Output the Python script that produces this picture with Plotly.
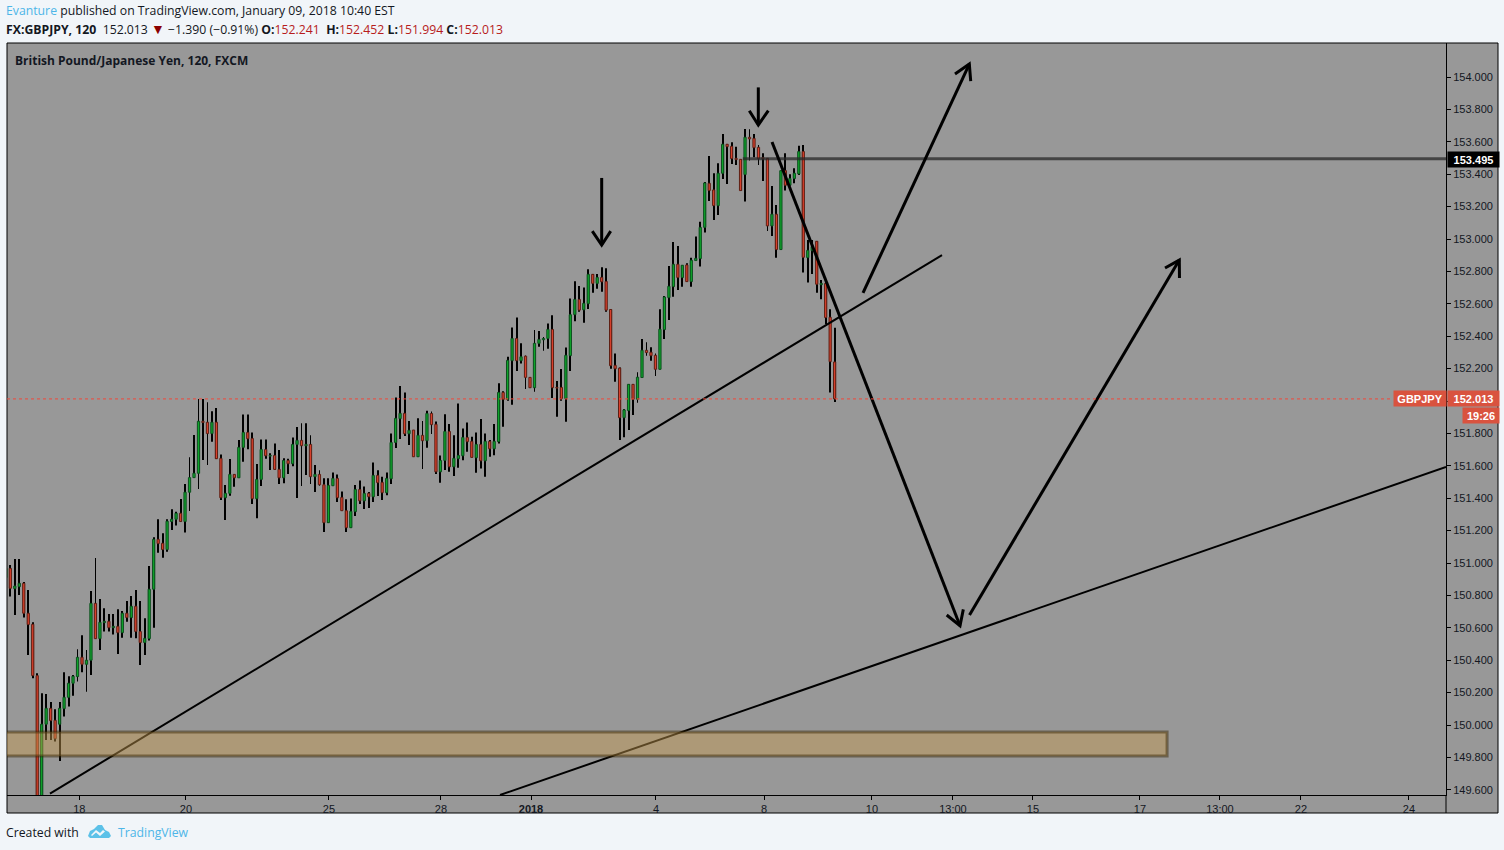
import plotly.graph_objects as go

opens = [150.910,150.967,150.842,150.854,150.875,150.690,150.622,150.305,149.30,150.005,
150.103,150.029,150.005,150.101,150.171,150.258,150.299,150.418,150.375,150.400,
150.751,150.533,150.632,150.640,150.601,150.609,150.570,150.690,150.663,150.733,
150.577,150.509,150.533,150.838,151.146,151.122,151.083,151.256,151.270,151.307,
151.256,151.437,151.527,151.554,151.875,151.869,151.799,151.869,151.646,151.403,
151.430,151.547,151.526,151.714,151.806,151.769,151.397,151.516,151.701,151.660,
151.664,151.578,151.526,151.633,151.613,151.732,151.757,151.724,151.732,151.533,
151.547,151.483,151.249,151.477,151.522,151.405,151.323,151.218,151.317,151.454,
151.384,151.430,151.409,151.541,151.498,151.434,151.520,151.744,151.891,151.924,
151.798,151.821,151.656,151.788,151.755,151.923,151.856,151.563,151.633,151.812,
151.594,151.644,151.662,151.775,151.751,151.650,151.732,151.631,151.751,151.705,
151.749,152.053,152.010,152.249,152.386,152.249,152.277,152.146,152.082,152.356,
152.378,152.386,152.442,152.084,152.084,152.016,152.280,152.533,152.627,152.563,
152.601,152.782,152.726,152.763,152.738,152.565,152.220,152.203,151.897,151.941,
152.103,152.011,152.145,152.313,152.301,152.282,152.196,152.441,152.638,152.706,
152.844,152.762,152.840,152.737,152.867,152.879,153.072,153.344,153.303,153.206,
153.406,153.585,153.572,153.498,153.492,153.398,153.628,153.621,153.566,153.502,
153.498,153.081,153.153,152.935,153.422,153.332,153.373,153.402,153.540,152.885,
152.928,152.986,152.718,152.726,152.517,152.241]
highs = [151.02,150.988,151.025,151.025,150.883,150.834,150.634,150.319,150.196,150.192,
150.142,150.097,150.142,150.325,150.301,150.309,150.467,150.554,150.463,150.828,
151.031,150.778,150.721,150.686,150.686,150.714,150.704,150.766,150.797,150.834,
150.766,150.659,150.982,151.159,151.270,151.183,151.270,151.332,151.317,151.395,
151.488,151.653,151.790,152.013,152.013,151.992,151.937,151.957,151.670,151.481,
151.642,151.547,151.759,151.917,151.917,151.806,151.611,151.763,151.763,151.677,
151.738,151.697,151.646,151.644,151.775,151.839,151.862,151.862,151.788,151.605,
151.572,151.524,151.524,151.559,151.547,151.442,151.393,151.399,151.481,151.510,
151.473,151.438,151.621,151.572,151.533,151.559,151.800,152.022,152.092,152.053,
151.876,151.821,151.893,151.876,151.940,151.936,151.874,151.664,151.919,151.858,
151.788,151.985,151.831,151.868,151.779,151.806,151.889,151.800,151.759,151.858,
152.109,152.061,152.273,152.454,152.516,152.356,152.281,152.146,152.438,152.432,
152.395,152.479,152.530,152.123,152.197,152.331,152.633,152.740,152.710,152.701,
152.814,152.784,152.784,152.825,152.819,152.565,152.294,152.207,151.951,152.103,
152.103,152.177,152.383,152.363,152.332,152.294,152.566,152.649,152.834,152.982,
152.957,152.838,152.850,152.885,153.015,153.107,153.352,153.513,153.406,153.468,
153.649,153.586,153.597,153.570,153.492,153.679,153.677,153.649,153.581,153.529,
153.498,153.328,153.210,153.422,153.529,153.400,153.437,153.575,153.581,152.994,
152.994,152.986,152.747,152.726,152.566,152.452]
lows = [150.90,150.793,150.679,150.803,150.663,150.432,150.288,149.20,149.20,149.908,
149.908,149.898,149.778,150.052,150.114,150.181,150.268,150.325,150.206,150.309,
150.533,150.463,150.577,150.577,150.558,150.439,150.539,150.638,150.539,150.535,
150.371,150.432,150.521,150.601,151.064,151.033,151.070,151.204,151.231,151.256,
151.188,151.321,151.527,151.457,151.636,151.605,151.749,151.642,151.389,151.265,
151.415,151.471,151.526,151.625,151.703,151.364,151.277,151.475,151.644,151.574,
151.574,151.487,151.493,151.549,151.598,151.401,151.475,151.543,151.487,151.438,
151.477,151.191,151.249,151.477,151.376,151.323,151.191,151.218,151.290,151.364,
151.333,151.339,151.376,151.413,151.389,151.419,151.487,151.710,151.765,151.784,
151.728,151.656,151.656,151.580,151.712,151.796,151.549,151.496,151.574,151.563,
151.537,151.588,151.635,151.687,151.652,151.557,151.584,151.533,151.656,151.666,
151.738,151.841,152.002,151.977,152.185,152.232,152.074,152.082,152.057,152.335,
152.310,152.323,152.018,151.903,152.002,151.872,152.185,152.493,152.551,152.483,
152.568,152.668,152.693,152.675,152.551,152.199,152.119,151.759,151.776,151.821,
151.914,151.990,152.145,152.280,152.249,152.155,152.196,152.383,152.500,152.644,
152.686,152.706,152.737,152.706,152.867,152.830,153.040,153.235,153.118,153.149,
153.371,153.340,153.463,153.457,153.299,153.231,153.484,153.505,153.457,153.358,
153.050,153.019,152.885,152.935,153.299,153.330,153.344,153.395,152.793,152.731,
152.784,152.669,152.628,152.476,152.052,151.994]
closes = [150.967,150.844,150.858,150.875,150.690,150.620,150.305,149.30,150.005,150.103,
150.027,149.916,150.103,150.171,150.258,150.301,150.418,150.375,150.400,150.751,
150.533,150.634,150.640,150.601,150.609,150.570,150.690,150.663,150.733,150.577,
150.509,150.535,150.838,151.146,151.120,151.083,151.258,151.270,151.307,151.256,
151.437,151.527,151.554,151.875,151.867,151.799,151.869,151.644,151.403,151.430,
151.547,151.526,151.714,151.806,151.767,151.397,151.516,151.701,151.662,151.664,
151.578,151.526,151.633,151.613,151.732,151.757,151.724,151.732,151.533,151.547,
151.483,151.249,151.479,151.522,151.403,151.323,151.218,151.319,151.454,151.384,
151.430,151.409,151.541,151.496,151.434,151.522,151.744,151.893,151.924,151.798,
151.819,151.656,151.788,151.755,151.923,151.854,151.563,151.633,151.812,151.594,
151.646,151.664,151.775,151.749,151.652,151.732,151.631,151.751,151.705,151.751,
152.053,152.010,152.251,152.386,152.249,152.273,152.146,152.082,152.356,152.380,
152.386,152.442,152.082,152.080,152.016,152.282,152.533,152.627,152.561,152.603,
152.782,152.726,152.763,152.736,152.561,152.218,152.199,151.897,151.945,152.103,
152.011,152.147,152.313,152.299,152.280,152.196,152.443,152.642,152.708,152.844,
152.762,152.838,152.737,152.869,152.881,153.072,153.346,153.299,153.206,153.406,
153.585,153.570,153.496,153.490,153.299,153.628,153.618,153.564,153.496,153.496,
153.081,153.153,152.935,153.422,153.332,153.373,153.406,153.540,152.887,152.930,
152.953,152.721,152.726,152.515,152.243,152.013]
bars = list(range(len(opens)))

price_ticks = [149.6,149.8,150.0,150.2,150.4,150.6,150.8,151.0,151.2,151.4,151.6,151.8,
               152.0,152.2,152.4,152.6,152.8,153.0,153.2,153.4,153.6,153.8,154.0]
date_tick_bars = [16.39,40.21,72.12,97.13,117.22,145.12,169.23,193.33,211.41,229.27,253.15,271.01,289.09,313.2]
date_tick_text = ["18","20","25","28","<b>2018</b>","4","8","10","13:00","15","17","13:00","22","24"]

last_price = 152.013
level_price = 153.495
level_start_bar = 164.5

# drawings, as (bar, price)
support_bars, support_prices = [9.85, 208.96], [149.577, 152.901]
lower_bars, lower_prices = [110.3, 321.46], [149.568, 151.593]
zone_bars, zone_prices = [-3, 259.2], [149.809, 149.957]
arrow_up_bars = [191.33, 215.06, None, 211.86, 215.06, 215.37]
arrow_up_prices = [152.667, 154.080, None, 154.019, 154.080, 153.975]
arrow_down_bars = [171.02, 212.98, None, 210.01, 212.98, 213.72]
arrow_down_prices = [153.599, 150.613, None, 150.679, 150.613, 150.714]
arrow_rise_bars = [215.10, 261.93, None, 258.74, 261.93, 261.97]
arrow_rise_prices = [150.679, 152.870, None, 152.821, 152.870, 152.759]
mark1_bars = [133.0, 133.0, None, 130.9, 133.0, 135.01]
mark1_prices = [153.377, 152.963, None, 153.049, 152.963, 153.049]
mark2_bars = [167.96, 167.96, None, 165.95, 167.96, 170.19]
mark2_prices = [153.936, 153.704, None, 153.792, 153.704, 153.792]

PAGE = "#f1f5f9"
GREY = "#989898"
L, R, T, B = 7, 1446, 43, 795
px = lambda x: (x - L) / (R - L)
py = lambda y: (B - y) / (B - T)

up = [c >= o for o, c in zip(opens, closes)]
fig = go.Figure()
fig.add_trace(go.Bar(x=bars, base=lows, y=[h - l for h, l in zip(highs, lows)], width=0.2,
                     marker=dict(color="#000000", line=dict(width=0)), hoverinfo="skip"))
fig.add_trace(go.Bar(x=bars, base=[min(o, c) for o, c in zip(opens, closes)],
                     y=[abs(c - o) for o, c in zip(opens, closes)], width=0.5,
                     marker=dict(color=["#0fa52b" if u else "#d8402c" for u in up],
                                 line=dict(color=["#0c4f1e" if u else "#5e1f14" for u in up], width=1)),
                     hoverinfo="skip"))

def line(xs, ys, width, color="#000000"):
    fig.add_trace(go.Scatter(x=xs, y=ys, mode="lines", hoverinfo="skip",
                             line=dict(color=color, width=width)))

line(support_bars, support_prices, 2)
line(lower_bars, lower_prices, 2)
line([level_start_bar, 321.46], [level_price, level_price], 3, "rgba(40,40,40,0.75)")
for xs, ys in [(arrow_up_bars, arrow_up_prices), (arrow_down_bars, arrow_down_prices),
               (arrow_rise_bars, arrow_rise_prices), (mark1_bars, mark1_prices), (mark2_bars, mark2_prices)]:
    line(xs, ys, 3)

shapes = [
    dict(type="rect", xref="paper", yref="paper", x0=0, x1=px(1498), y0=py(813), y1=1,
         fillcolor=GREY, line=dict(color="#000000", width=1), layer="below"),
    dict(type="line", xref="paper", yref="paper", x0=1, x1=1, y0=py(813), y1=0,
         line=dict(color="#000000", width=1)),
    dict(type="rect", xref="x", yref="y", x0=zone_bars[0], x1=zone_bars[1], y0=zone_prices[0], y1=zone_prices[1],
         fillcolor="rgba(200,155,80,0.45)", line=dict(color="rgba(60,42,5,0.5)", width=3)),
    dict(type="line", xref="paper", yref="y", x0=0, x1=px(1393), y0=last_price, y1=last_price,
         line=dict(color="#f0483a", width=1, dash="dot")),
    # TradingView logo
    dict(type="path", xref="paper", yref="paper", fillcolor="#5cc1e8", line=dict(width=0),
         path="M" + " L".join(f"{px(a)},{py(b)}" for a, b in [
             (88,836),(90,831),(94,829),(98,825),(102,825),(105,830),(109,832),(111,836),(109,838),(91,838),
             (90,838)]) + " Z"),
    dict(type="path", xref="paper", yref="paper", fillcolor=PAGE, line=dict(width=0),
         path="M" + " L".join(f"{px(a)},{py(b)}" for a, b in [
             (91,835),(96,830),(100,833),(103,830),(105,831.5),(100,836),(96,832.5),(92,836)]) + " Z"),
]

def label(x, y, text, size=12, family="Open Sans", color="#131722", xanchor="left"):
    return dict(xref="paper", yref="paper", x=px(x - 2), y=py(y), text=text, showarrow=False, xanchor=xanchor,
                yanchor="middle", font=dict(family=family, size=size, color=color), align="left")

def tag(x, w, y, h, text, bg):
    return dict(xref="paper", yref="paper", x=px(x), y=py(y), width=w, height=h, text=f"<b>{text}</b>",
                showarrow=False, xanchor="left", yanchor="middle", bgcolor=bg, align="center", borderpad=0,
                font=dict(family="Liberation Sans", size=11, color="#ffffff"))

RED = "#b71c1c"
annotations = [
    label(6, 11, '<span style="color:#4db6e8">Evanture</span> published on TradingView.com, January 09, 2018 10:40 EST', size=12.25),
    label(6, 28.5, f'<b>FX:GBPJPY, 120</b>\u00a0 152.013 <span style="color:#8b0000;font-size:14px">▼</span> −1.390 (−0.91%) '
                 f'<b>O:</b><span style="color:{RED}">152.241</span>\u00a0 <b>H:</b><span style="color:{RED}">152.452</span>\u00a0'
                 f'<b>L:</b><span style="color:{RED}">151.994</span>\u00a0<b>C:</b><span style="color:{RED}">152.013</span>', size=12.25),
    label(15, 60, "<b>British Pound/Japanese Yen, 120, FXCM</b>"),
    label(6, 832, "Created with", size=12.25),
    label(118, 832, "TradingView", size=12.25, color="#4db6e8"),
    tag(1393, 52, 398.5, 15, "GBPJPY", "#d9533f"),
    tag(1447, 51, 398.5, 15, "152.013", "#d9533f"),
    tag(1462, 36, 416, 15, "19:26", "#d9533f"),
    tag(1447, 51, 159, 15, "153.495", "#000000"),
]

fig.update_layout(
    width=1504, height=850, autosize=False, showlegend=False, barmode="overlay",
    paper_bgcolor=PAGE, plot_bgcolor=GREY,
    margin=dict(l=L, r=1504 - R, t=T, b=850 - B, pad=0),
    shapes=shapes, annotations=annotations,
    xaxis=dict(range=[0.257, 321.46], tickmode="array", tickvals=date_tick_bars, ticktext=date_tick_text,
               showgrid=False, zeroline=False, showline=True, linecolor="#000000", linewidth=1,
               ticks="outside", ticklen=4, tickcolor="#000000", tickfont=dict(family="Liberation Sans", size=11, color="#131722")),
    yaxis=dict(range=[149.568, 154.210], side="right", tickmode="array", tickvals=price_ticks,
               ticktext=[f"{p:.3f}" for p in price_ticks],
               showgrid=False, zeroline=False, showline=True, linecolor="#000000", linewidth=1,
               ticks="outside", ticklen=4, tickcolor="#000000", tickfont=dict(family="Liberation Sans", size=11, color="#131722")),
)

fig.write_html("out.html", config={"displayModeBar": False},
               post_script="document.body.style.margin='0';document.body.style.background='#f1f5f9';document.documentElement.style.overflow='hidden';")
